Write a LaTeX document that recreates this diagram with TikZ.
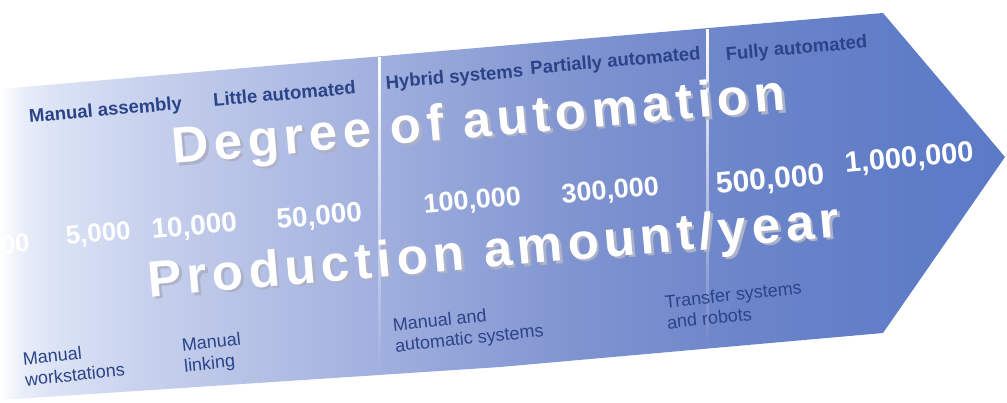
\documentclass[tikz,border=0pt]{standalone}
\usepackage{fontspec}
\setmainfont{Liberation Sans}
\newfontfamily\spacedfont{Liberation Sans}[LetterSpace=10.5]
\usepackage{xcolor}
\definecolor{Ink Navy}{HTML}{2B4389}
\definecolor{Soft Slate}{HTML}{ADB2C8}
\colorlet{cLabel}{Ink Navy}
\colorlet{cShadow}{Soft Slate}
% stops of the band, from the pale tail to the blue head
\definecolor{band1}{RGB}{232,237,249}
\definecolor{band2}{RGB}{220,228,245}
\definecolor{band3}{RGB}{200,210,238}
\definecolor{band4}{RGB}{180,192,229}
\definecolor{band5}{RGB}{160,175,222}
\definecolor{band6}{RGB}{128,148,208}
\definecolor{band7}{RGB}{108,133,202}
\definecolor{band8}{RGB}{95,124,199}
\definecolor{band9}{RGB}{92,122,198}
\usepackage{tikz}
\usetikzlibrary{calc, fadings}
\pgfdeclarehorizontalshading{flow}{100bp}{
  color(0bp)=(white); color(25bp)=(white);
  color(26.2bp)=(band1); color(27.5bp)=(band2);
  color(32bp)=(band3); color(38bp)=(band4);
  color(44bp)=(band5); color(53.5bp)=(band6);
  color(62bp)=(band7); color(70.5bp)=(band8);
  color(75bp)=(band9); color(100bp)=(band9)}
\tikzfading[name=fade down, top color=transparent!0,
  middle color=transparent!25, bottom color=transparent!100]
\tikzset{
	stage/.style={
		font=\fontsize{18.5}{20}\selectfont\bfseries,
		text=cLabel,
		inner sep=0pt,
		anchor=base,
		rotate=5
	},
	setup/.style={
		font=\fontsize{18}{21}\selectfont,
		text=cLabel,
		inner sep=0pt,
		align=left,
		anchor=north west,
		rotate=6
	},
	amount/.style={
		font=\fontsize{#1}{#1}\selectfont\bfseries,
		text=white,
		inner sep=0pt,
		anchor=base,
		rotate=5
	},
	amount/.default=27,
	headline/.style={
		font=\fontsize{51}{55}\spacedfont\bfseries,
		text=white,
		inner sep=0pt,
		anchor=base,
		rotate=5
	},
	headline shadow/.style={
		headline,
		text=cShadow,
		xshift=2.5pt,
		yshift=-2.5pt
	},
	divider/.style={
		white,
		path fading=fade down
	}
}

\begin{document}
\begin{tikzpicture}[x=1pt, y=-1pt]
        \useasboundingbox (0,0) rectangle (1007,403);

        % the band with its arrow head
        \coordinate (tl) at (0,89);
        \coordinate (tc) at (883,13);
        \coordinate (tip) at (1005,157);
        \coordinate (bc) at (883,333);
        \coordinate (bm) at (500,367);
        \coordinate (bl) at (0,400);
        \shade[shading=flow] (tl) -- (tc) -- (tip) -- (bc) -- (bm) -- (bl) -- cycle;

        % white rules between the stages
        \fill[divider] (377.5,56.5) rectangle (381,375);
        \fill[divider] (705.5,28.5) rectangle (709,349);

        % stages along the top
        \node[stage] (ma) at (106,116) {Manual assembly};
        \node[stage] (la) at (285,100) {Little automated};
        \node[stage] (hs) at (455,83) {Hybrid systems};
        \node[stage] (pa) at (616,67) {Partially automated};
        \node[stage] (fa) at (797,54) {Fully automated};

        % headlines
        \node[headline shadow] (deg-s) at (480,137) {Degree of automation};
        \node[headline] (deg) at (480,137) {Degree of automation};
        \node[headline shadow] (prod-s) at (495,267) {Production amount/year};
        \node[headline] (prod) at (495,267) {Production amount/year};

        % amounts per year
        \node[amount=26] (n0) at (16,253) {00};
        \node[amount=26] (n1) at (99,242) {5,000};
        \node[amount=28] (n2) at (195,235) {10,000};
        \node[amount=28] (n3) at (320,225) {50,000};
        \node[amount] (n4) at (473,209) {100,000};
        \node[amount] (n5) at (611,199) {300,000};
        \node[amount=30] (n6) at (771,189) {500,000};
        \node[amount=29] (n7) at (910,167) {1,000,000};

        % set-ups along the bottom
        \node[setup] (mw) at (22,352) {Manual\\workstations};
        \node[setup] (ml) at (181,338) {Manual\\linking};
        \node[setup] (mas) at (392,318) {Manual and\\automatic systems};
        \node[setup] (tsr) at (664,295) {Transfer systems\\and robots};
    \end{tikzpicture}
\end{document}
